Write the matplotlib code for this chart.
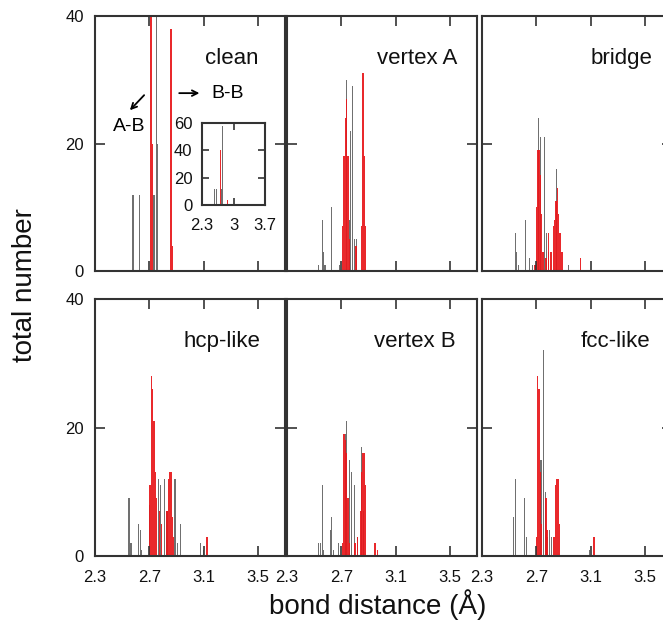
import matplotlib.pyplot as plt

plt.rcParams['font.family'] = ['Liberation Sans', 'DejaVu Sans']

# bond-distance histograms, A-B (grey) and B-B (red), counts per bin
clean_ab_x = [2.58, 2.625, 2.735, 2.755, 2.76]
clean_ab_n = [12, 12, 12, 58, 20]
clean_bb_x = [2.712, 2.722, 2.86, 2.87]
clean_bb_n = [40, 20, 38, 4]

vertA_ab_x = [2.53, 2.56, 2.57, 2.58, 2.625, 2.685, 2.74, 2.76, 2.77, 2.78, 2.795, 2.81]
vertA_ab_n = [1, 8, 3, 1, 10, 1, 30, 8, 22, 29, 5, 5]
vertA_bb_x = [2.71, 2.72, 2.73, 2.74, 2.75, 2.76, 2.81, 2.85, 2.86, 2.87, 2.88]
vertA_bb_n = [7, 18, 24, 27, 18, 5, 4, 7, 31, 18, 7]

bridge_ab_x = [2.545, 2.555, 2.57, 2.62, 2.65, 2.67, 2.715, 2.73, 2.76, 2.775, 2.79, 2.85, 2.935]
bridge_ab_n = [6, 3, 1, 8, 2, 1, 24, 21, 21, 6, 3, 16, 1]
bridge_bb_x = [2.69, 2.70, 2.71, 2.72, 2.73, 2.74, 2.75, 2.77, 2.79, 2.81, 2.825, 2.835,
               2.845, 2.855, 2.865, 2.875, 2.885, 2.895, 3.025]
bridge_bb_n = [1, 10, 19, 19, 15, 9, 3, 2, 6, 3, 7, 8, 11, 13, 9, 6, 3, 3, 2]

hcp_ab_x = [2.55, 2.565, 2.62, 2.635, 2.645, 2.70, 2.77, 2.78, 2.81, 2.83, 2.89, 2.91, 2.93, 3.075, 3.10]
hcp_ab_n = [9, 2, 5, 4, 1, 8, 12, 11, 12, 7, 12, 2, 5, 2, 1]
hcp_bb_x = [2.705, 2.715, 2.725, 2.735, 2.745, 2.755, 2.775, 2.79, 2.83, 2.84, 2.85, 2.86, 2.87, 2.88, 3.125]
hcp_bb_n = [11, 28, 26, 21, 13, 9, 7, 5, 7, 12, 13, 13, 6, 3, 3]

vertB_ab_x = [2.53, 2.545, 2.56, 2.57, 2.62, 2.63, 2.64, 2.68, 2.73, 2.74, 2.76, 2.775, 2.795, 2.82, 2.85, 2.865]
vertB_ab_n = [2, 2, 11, 1, 4, 6, 1, 2, 19, 21, 15, 13, 11, 3, 17, 7]
vertB_bb_x = [2.71, 2.72, 2.73, 2.74, 2.75, 2.76, 2.80, 2.82, 2.84, 2.85, 2.86, 2.87, 2.88, 2.95, 2.965]
vertB_bb_n = [2, 19, 18, 16, 9, 2, 2, 3, 7, 13, 16, 16, 11, 2, 1]

fcc_ab_x = [2.53, 2.545, 2.615, 2.63, 2.735, 2.755, 2.765, 2.785, 2.80, 2.815, 3.095]
fcc_ab_n = [6, 12, 9, 3, 15, 32, 10, 3, 4, 3, 1]
fcc_bb_x = [2.70, 2.71, 2.72, 2.73, 2.74, 2.77, 2.78, 2.83, 2.84, 2.85, 2.86, 2.87, 3.125]
fcc_bb_n = [3, 28, 26, 13, 5, 9, 4, 3, 11, 12, 12, 5, 3]

panels = [
    ("clean", clean_ab_x, clean_ab_n, clean_bb_x, clean_bb_n),
    ("vertex A", vertA_ab_x, vertA_ab_n, vertA_bb_x, vertA_bb_n),
    ("bridge", bridge_ab_x, bridge_ab_n, bridge_bb_x, bridge_bb_n),
    ("hcp-like", hcp_ab_x, hcp_ab_n, hcp_bb_x, hcp_bb_n),
    ("vertex B", vertB_ab_x, vertB_ab_n, vertB_bb_x, vertB_bb_n),
    ("fcc-like", fcc_ab_x, fcc_ab_n, fcc_bb_x, fcc_bb_n),
]
name_right = [0.86, 0.895, 0.895, 0.87, 0.885, 0.885]

grey = '#707070'
red = '#e8161a'
spine = '#333333'
bw = 0.011

W, H = 663, 631
fig = plt.figure(figsize=(W / 100, H / 100), dpi=100)

lefts = [95, 287, 482]
rows = [(16, 271), (299, 556)]
pw = 190


def style(ax, xt, yt, fs=12):
    ax.set_xticks(xt)
    ax.set_yticks(yt)
    ax.tick_params(direction='in', top=True, right=True, length=7, width=1.2,
                   colors=spine, labelsize=fs, labelcolor='#111111')
    for s in ax.spines.values():
        s.set_linewidth(1.5)
        s.set_color(spine)


def draw(ax, ab_x, ab_n, bb_x, bb_n):
    ax.bar(ab_x, ab_n, width=bw * 0.8, color=grey, linewidth=0)
    ax.bar(bb_x, bb_n, width=bw, color=red, linewidth=0, alpha=0.92)


for i, (name, ax_, an, bx, bn) in enumerate(panels):
    r, c = divmod(i, 3)
    top, bot = rows[r]
    ax = fig.add_axes([lefts[c] / W, 1 - bot / H, pw / W, (bot - top) / H])
    draw(ax, ax_, an, bx, bn)
    ax.set_xlim(2.3, 3.7)
    ax.set_ylim(0, 40)
    style(ax, [2.3, 2.7, 3.1, 3.5], [0, 20, 40])
    ax.tick_params(axis='y', pad=8)
    ax.tick_params(axis='x', pad=10)
    if c > 0:
        ax.set_yticklabels([])
    if r == 0:
        ax.set_xticklabels([])
    else:
        ax.set_xticklabels(['2.3', '2.7', '3.1', '3.5'])
    ax.text(name_right[i], 0.835, name, transform=ax.transAxes, ha='right', va='center',
            fontsize=16, color='#111111')

    if name == "clean":
        ax.annotate('', xy=(2.543, 24.9), xytext=(2.676, 27.9),
                    arrowprops=dict(arrowstyle='->', color='black', lw=1.3))
        ax.text(2.55, 22.6, 'A-B', ha='center', va='center', fontsize=14)
        ax.annotate('', xy=(3.09, 27.9), xytext=(2.9, 27.9),
                    arrowprops=dict(arrowstyle='->', color='black', lw=1.3))
        ax.text(3.28, 27.9, 'B-B', ha='center', va='center', fontsize=14)

        ins = fig.add_axes([202 / W, 1 - 205 / H, 63 / W, 82 / H])
        draw(ins, ax_, an, bx, bn)
        ins.set_xlim(2.3, 3.7)
        ins.set_ylim(0, 60)
        style(ins, [2.3, 3.0, 3.7], [0, 20, 40, 60], fs=12)
        ins.tick_params(length=5)
        ins.tick_params(axis='x', pad=9)
        ins.tick_params(axis='y', pad=7)
        ins.set_xticklabels(['2.3', '3', '3.7'])

fig.text(25 / W, 1 - 285 / H, 'total number', rotation=90, ha='center', va='center',
         fontsize=20, color='#111111')
fig.text(378 / W, 1 - 605 / H, 'bond distance (Å)', ha='center', va='center',
         fontsize=20, color='#111111')

fig.savefig('out.png', dpi=100)
